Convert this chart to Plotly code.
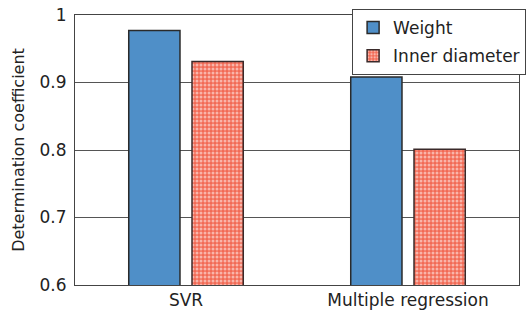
import plotly.graph_objects as go

categories = ["SVR", "Multiple regression"]
weight = [0.977, 0.908]
inner_diameter = [0.931, 0.801]
tick_vals = [0.6, 0.7, 0.8, 0.9, 1.0]
tick_text = ["0.6", "0.7", "0.8", "0.9", "1"]

FONT = "DejaVu Sans, sans-serif"

fig = go.Figure()
fig.add_trace(go.Bar(
    name="Weight", x=categories, y=weight, legendgroup="w",
    marker=dict(color="#4f8fc8", line=dict(color="#2a2a2a", width=1.5)),
))
fig.add_trace(go.Bar(
    name="Inner diameter", x=categories, y=inner_diameter, legendgroup="d",
    marker=dict(
        color="#f26a55",
        line=dict(color="#3a2a2a", width=1.5),
        pattern=dict(shape=".", fgcolor="white", bgcolor="#f26a55", size=4, solidity=0.45),
    ),
))

fig.update_layout(
    width=526, height=320,
    margin=dict(l=75, r=7, t=15, b=35, autoexpand=False),
    paper_bgcolor="white", plot_bgcolor="white",
    barmode="group", bargap=0.43, bargroupgap=0.19,
    font=dict(family=FONT, color="#222", size=17),
    showlegend=True,
    legend=dict(
        x=1.016, y=1.022, xanchor="right", yanchor="top",
        bgcolor="white", bordercolor="#444", borderwidth=1,
        font=dict(size=17, family=FONT, color="#222"),
        itemwidth=30, tracegroupgap=3,
    ),
    xaxis=dict(
        showline=True, linecolor="#444", linewidth=1, mirror=True,
        ticks="", tickfont=dict(size=17),
        showgrid=False,
    ),
    yaxis=dict(
        range=[0.6, 1.0], tickvals=tick_vals, ticktext=tick_text,
        showline=True, linecolor="#444", linewidth=1, mirror=True,
        showgrid=True, gridcolor="#555", gridwidth=1,
        ticks="", tickfont=dict(size=17), ticklabelstandoff=4,
        title=dict(text="Determination coefficient", font=dict(size=16), standoff=10),
        zeroline=False,
    ),
)

fig.write_html(
    "out.html",
    config={"displayModeBar": False},
    post_script="document.body.style.margin='0';",
)
